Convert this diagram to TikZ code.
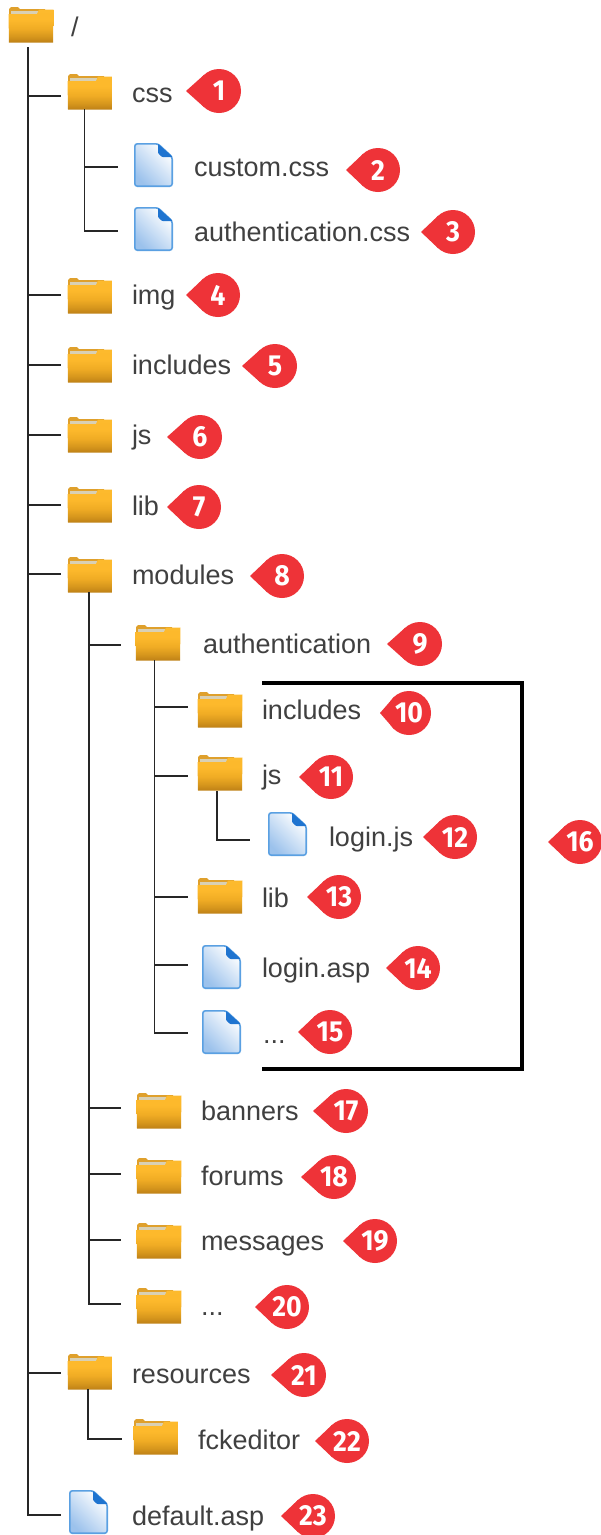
\documentclass[tikz,border=0pt]{standalone}
\usepackage{fontspec}
\setmainfont{Liberation Sans}
\newfontfamily\badgefont{Fira Sans}
\definecolor{txt}{HTML}{404040}
\definecolor{bred}{HTML}{EE3338}
\definecolor{fback}{HTML}{DFA02C}
\definecolor{fpaper}{HTML}{D9D0B4}
\definecolor{fedge}{HTML}{5AA0E2}
\definecolor{ffold}{HTML}{1F74D0}
\definecolor{fgrad}{HTML}{9CC2EC}
\definecolor{sa}{HTML}{BE8016}
\definecolor{sb}{HTML}{D6961C}
\definecolor{sc}{HTML}{F0AC24}
\definecolor{sd}{HTML}{FDB92C}
\definecolor{se}{HTML}{FDBB2E}
\pgfdeclareverticalshading{foldershade}{100bp}{
  color(0bp)=(sa); color(25bp)=(sa); color(34bp)=(sb); color(46bp)=(sc);
  color(60bp)=(sd); color(100bp)=(se)}
\tikzset{
  x=1pt,y=-1pt,
  iconbox/.style={inner sep=0pt,outer sep=0pt,anchor=north west},
  lbl/.style={anchor=base west,inner sep=0pt,outer sep=0pt,text=txt,font=\fontsize{27}{30}\selectfont},
  conn/.style={line width=1.7pt,color=black!85},
  frame/.style={line width=4pt,color=black,line cap=butt,line join=miter},
  num/.style={circle,fill=bred,minimum size=44pt,inner sep=0pt,text=white,font=\badgefont\bfseries\fontsize{29}{30}\selectfont}
}
\newcommand{\folderico}[3]{%
  \node[iconbox,minimum width=46pt,minimum height=36pt] (#1) at (#2,#3) {};
  \begin{scope}[shift={(#2,#3)}]
    \fill[fback] (1,20) -- (1,2) -- (3,0) -- (10,0) -- (12,2) -- (37,2) -- (37,12) -- (1,12) -- cycle;
    \fill[fpaper] (2.5,3.8) rectangle (30,7);
    \shade[shading=foldershade] (0.5,7) -- (29,7) -- (31,2.5) -- (45.5,2.5) -- (45,35.5) -- (1,35.5) -- cycle;
  \end{scope}}
\newcommand{\fileico}[3]{%
  \node[iconbox,minimum width=39pt,minimum height=44pt] (#1) at (#2,#3) {};
  \begin{scope}[shift={(#2,#3)}]
    \draw[fedge,line width=1.6pt,rounded corners=2.5pt,shading=axis,left color=white,right color=fgrad,shading angle=-45]
      (0.8,0.8) -- (24,0.8) -- (38.2,14) -- (38.2,43.2) -- (0.8,43.2) -- cycle;
    \fill[ffold,rounded corners=0.8pt] (24,0.7) -- (38.8,14) -- (28,14) -- (24,10) -- cycle;
  \end{scope}}
\newcommand{\badge}[5]{%
  \fill[bred] (#2,#4) -- ({#3-22*cos(48)},{#4-22*sin(48)}) -- (#3,#4) -- ({#3-22*cos(48)},{#4+22*sin(48)}) -- cycle;
  \node[num] (#1) at (#3,#4) {\scalebox{.92}[1]{#5}};}
\begin{document}
\begin{tikzpicture}
\useasboundingbox (0,0) rectangle (601,1535);
\fill[white] (0,0) rectangle (601,1535);
% folders and files
\folderico{root}{8}{7}
\folderico{css}{67}{74}
\fileico{customcss}{134}{143}
\fileico{authcss}{134}{207}
\folderico{img}{67}{278}
\folderico{includes}{67}{347}
\folderico{js}{67}{417}
\folderico{lib}{67}{487}
\folderico{modules}{67}{557}
\folderico{authentication}{135}{625}
\folderico{authincludes}{197}{692}
\folderico{authjs}{197}{755}
\fileico{loginjs}{268}{812}
\folderico{authlib}{197}{878}
\fileico{loginasp}{202}{945}
\fileico{authdots}{202}{1010}
\folderico{banners}{136}{1093}
\folderico{forums}{136}{1158}
\folderico{messages}{136}{1223}
\folderico{moddots}{136}{1288}
\folderico{resources}{67}{1354}
\folderico{fckeditor}{133}{1419}
\fileico{defaultasp}{69}{1490}
% free ends of connectors
\coordinate (rootS) at (28,47);
\coordinate (cssS) at (84.5,109);
\coordinate (modS) at (89,592);
\coordinate (authS) at (154.5,660);
\coordinate (jsS) at (217,791);
\coordinate (resS) at (88,1389);
\foreach \n/\y in {a/96,b/295,c/365,d/435,e/505,f/574,g/1373,h/1515}{
  \coordinate (r\n) at (61,\y);
  \draw[conn] (rootS) |- (r\n);
}
\foreach \n/\y in {a/167,b/231}{
  \coordinate (c\n) at (118,\y);
  \draw[conn] (cssS) |- (c\n);
}
\foreach \n/\y in {a/645,b/1108,c/1174,d/1240,e/1304}{
  \coordinate (m\n) at (121,\y);
  \draw[conn] (modS) |- (m\n);
}
\foreach \n/\y in {a/707,b/776,c/897,d/965,e/1033}{
  \coordinate (u\n) at (188,\y);
  \draw[conn] (authS) |- (u\n);
}
\coordinate (jsE) at (250,840);
\draw[conn] (jsS) |- (jsE);
\coordinate (resE) at (122,1439);
\draw[conn] (resS) |- (resE);
% frame
\coordinate (fa) at (262,683);
\coordinate (fb) at (522,683);
\coordinate (fc) at (522,1069);
\coordinate (fd) at (262,1069);
\draw[frame] (fa) -- (fb) -- (fc) -- (fd);
% labels
\node[lbl] (troot) at (71,36) {/};
\node[lbl] (tcss) at (132,102) {css};
\node[lbl] (tcustom) at (194,176) {custom.css};
\node[lbl] (tauthcss) at (194,241) {authentication.css};
\node[lbl] (timg) at (132,304) {img};
\node[lbl] (tinc) at (132,374) {includes};
\node[lbl] (tjs) at (132,444) {js};
\node[lbl] (tlib) at (132,515) {lib};
\node[lbl] (tmod) at (132,584) {modules};
\node[lbl] (tauth) at (203,653) {authentication};
\node[lbl] (tainc) at (262,719) {includes};
\node[lbl] (tajs) at (262,784) {js};
\node[lbl] (tlogin) at (329,846) {login.js};
\node[lbl] (talib) at (262,907) {lib};
\node[lbl] (tlasp) at (262,977) {login.asp};
\node[lbl] (tadots) at (263,1043) {...};
\node[lbl] (tban) at (201,1120) {banners};
\node[lbl] (tfor) at (201,1185) {forums};
\node[lbl] (tmsg) at (201,1250) {messages};
\node[lbl] (tmdots) at (201,1315) {...};
\node[lbl] (tres) at (132,1383) {resources};
\node[lbl] (tfck) at (198,1449) {fckeditor};
\node[lbl] (tdef) at (132,1525) {default.asp};
% badges
\badge{b1}{186}{219}{91}{1}
\badge{b2}{346}{378}{170}{2}
\badge{b3}{421}{453}{232}{3}
\badge{b4}{186}{218}{295}{4}
\badge{b5}{242}{275}{366}{5}
\badge{b6}{167}{200}{437}{6}
\badge{b7}{167}{199}{507}{7}
\badge{b8}{250}{282}{576}{8}
\badge{b9}{387}{420}{644}{9}
\badge{b10}{380}{409}{713}{10}
\badge{b11}{299}{331}{777}{11}
\badge{b12}{423}{455}{837}{12}
\badge{b13}{307}{339}{897}{13}
\badge{b14}{386}{418}{968}{14}
\badge{b15}{298}{330}{1032}{15}
\badge{b16}{548}{580}{842}{16}
\badge{b17}{313}{346}{1111}{17}
\badge{b18}{301}{334}{1177}{18}
\badge{b19}{343}{375}{1241}{19}
\badge{b20}{255}{287}{1307}{20}
\badge{b21}{271}{304}{1375}{21}
\badge{b22}{315}{347}{1441}{22}
\badge{b23}{281}{313}{1516}{23}
\end{tikzpicture}
\end{document}
